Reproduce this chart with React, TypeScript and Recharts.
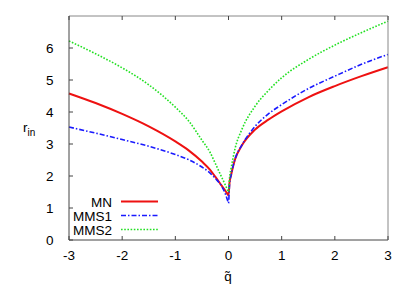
import {Line, LineChart, XAxis, YAxis} from 'recharts';

// q~ sample positions (denser near the cusp at 0)
const qValues = [-3, -2.5, -2, -1.5, -1, -0.75, -0.5, -0.35, -0.25, -0.125, -0.06, -0.02, 0,
    0.02, 0.05, 0.125, 0.25, 0.5, 0.75, 1, 1.5, 2, 2.5, 3];

const mnValues = [4.58, 4.28, 3.94, 3.55, 3.08, 2.8, 2.45, 2.2, 1.98, 1.69, 1.54, 1.44, 1.4,
    1.8, 2.04, 2.53, 2.95, 3.45, 3.76, 4.02, 4.46, 4.81, 5.12, 5.4];

const mms1Values = [3.53, 3.34, 3.14, 2.93, 2.67, 2.51, 2.28, 2.1, 1.93, 1.67, 1.45, 1.25, 1.15,
    1.75, 2.04, 2.54, 2.96, 3.55, 3.94, 4.23, 4.73, 5.12, 5.49, 5.8];

const mms2Values = [6.22, 5.82, 5.38, 4.85, 4.15, 3.72, 3.12, 2.75, 2.4, 1.95, 1.72, 1.57, 1.5,
    1.95, 2.25, 2.87, 3.45, 4.18, 4.67, 5.07, 5.64, 6.09, 6.48, 6.84];

const xTicks = [-3, -2, -1, 0, 1, 2, 3];
const yTicks = [0, 1, 2, 3, 4, 5, 6];

const series = [
    {key: 'mn', name: 'MN', color: '#ee1111', width: 2, dash: undefined},
    {key: 'mms1', name: 'MMS1', color: '#1a1aff', width: 1.6, dash: '5 2 1.5 2'},
    {key: 'mms2', name: 'MMS2', color: '#22e022', width: 1.6, dash: '1.6 1.6'},
];

const data = qValues.map((q, i) => ({
    q,
    mn: mnValues[i],
    mms1: mms1Values[i],
    mms2: mms2Values[i],
}));

const FONT = '"Liberation Sans", Arial, sans-serif';
const FRAME = '#444';
const TICK = 4;

const BottomTick = ({x, y, payload}: any) => (
    <g>
        <line x1={x} x2={x} y1={y} y2={y - TICK} stroke={FRAME}/>
        <text x={x} y={y + 20} textAnchor="middle" fontSize={13.5} fontFamily={FONT} fill="#000">
            {payload.value}
        </text>
    </g>
);

const TopTick = ({x, y}: any) => (
    <line x1={x} x2={x} y1={y} y2={y + TICK} stroke={FRAME}/>
);

const LeftTick = ({x, y, payload}: any) => (
    <g>
        <line x1={x} x2={x + TICK} y1={y} y2={y} stroke={FRAME}/>
        <text x={x - 15.5} y={y + 4.8} textAnchor="end" fontSize={13.5} fontFamily={FONT} fill="#000">
            {payload.value}
        </text>
    </g>
);

const RightTick = ({x, y}: any) => (
    <line x1={x} x2={x - TICK} y1={y} y2={y} stroke={FRAME}/>
);

export default function App() {
    return (
        <div style={{position: 'absolute', left: 0, top: 0, width: 409, height: 286, background: '#fff'}}>
            <LineChart width={409} height={286} data={data} margin={{top: 15, right: 20, left: 0, bottom: 0}}>
                <XAxis dataKey="q" type="number" domain={[-3, 3]} ticks={xTicks} height={46}
                       tickSize={0} tickMargin={0} tickLine={false} tick={<BottomTick/>}
                       axisLine={{stroke: FRAME}} interval={0}/>
                <XAxis xAxisId="top" orientation="top" dataKey="q" type="number" domain={[-3, 3]}
                       ticks={xTicks} height={1} tickSize={0} tickMargin={0} tickLine={false}
                       tick={<TopTick/>} axisLine={{stroke: '#888'}} interval={0}/>
                <YAxis type="number" domain={[0, 7]} ticks={yTicks} width={69} tickSize={0} tickMargin={0}
                       tickLine={false} tick={<LeftTick/>} axisLine={{stroke: FRAME}} interval={0}/>
                <YAxis yAxisId="right" orientation="right" type="number" domain={[0, 7]} ticks={yTicks}
                       width={1} tickSize={0} tickMargin={0} tickLine={false} tick={<RightTick/>}
                       axisLine={{stroke: '#888'}} interval={0}/>
                {series.map(s => (
                    <Line key={s.key} type="monotone" dataKey={s.key} name={s.name} stroke={s.color}
                          strokeWidth={s.width} strokeDasharray={s.dash} dot={false}
                          isAnimationActive={false}/>
                ))}
                <g>
                    {series.map((s, i) => (
                        <g key={s.key}>
                            <text x={112} y={206.5 + i * 14} textAnchor="end" fontSize={13.5} fontFamily={FONT}
                                  fill="#000">
                                {s.name}
                            </text>
                            <line x1={121} x2={158} y1={201.5 + i * 14} y2={201.5 + i * 14}
                                  stroke={s.color} strokeWidth={s.width} strokeDasharray={s.dash}/>
                        </g>
                    ))}
                </g>
                <text x={23} y={132} fontSize={13.5} fontFamily={FONT} fill="#000">
                    r<tspan fontSize={10} dy={4}>in</tspan>
                </text>
                <text x={228} y={281} textAnchor="middle" fontSize={13.5} fontFamily={FONT} fill="#000">
                    q̃
                </text>
            </LineChart>
        </div>
    );
}
